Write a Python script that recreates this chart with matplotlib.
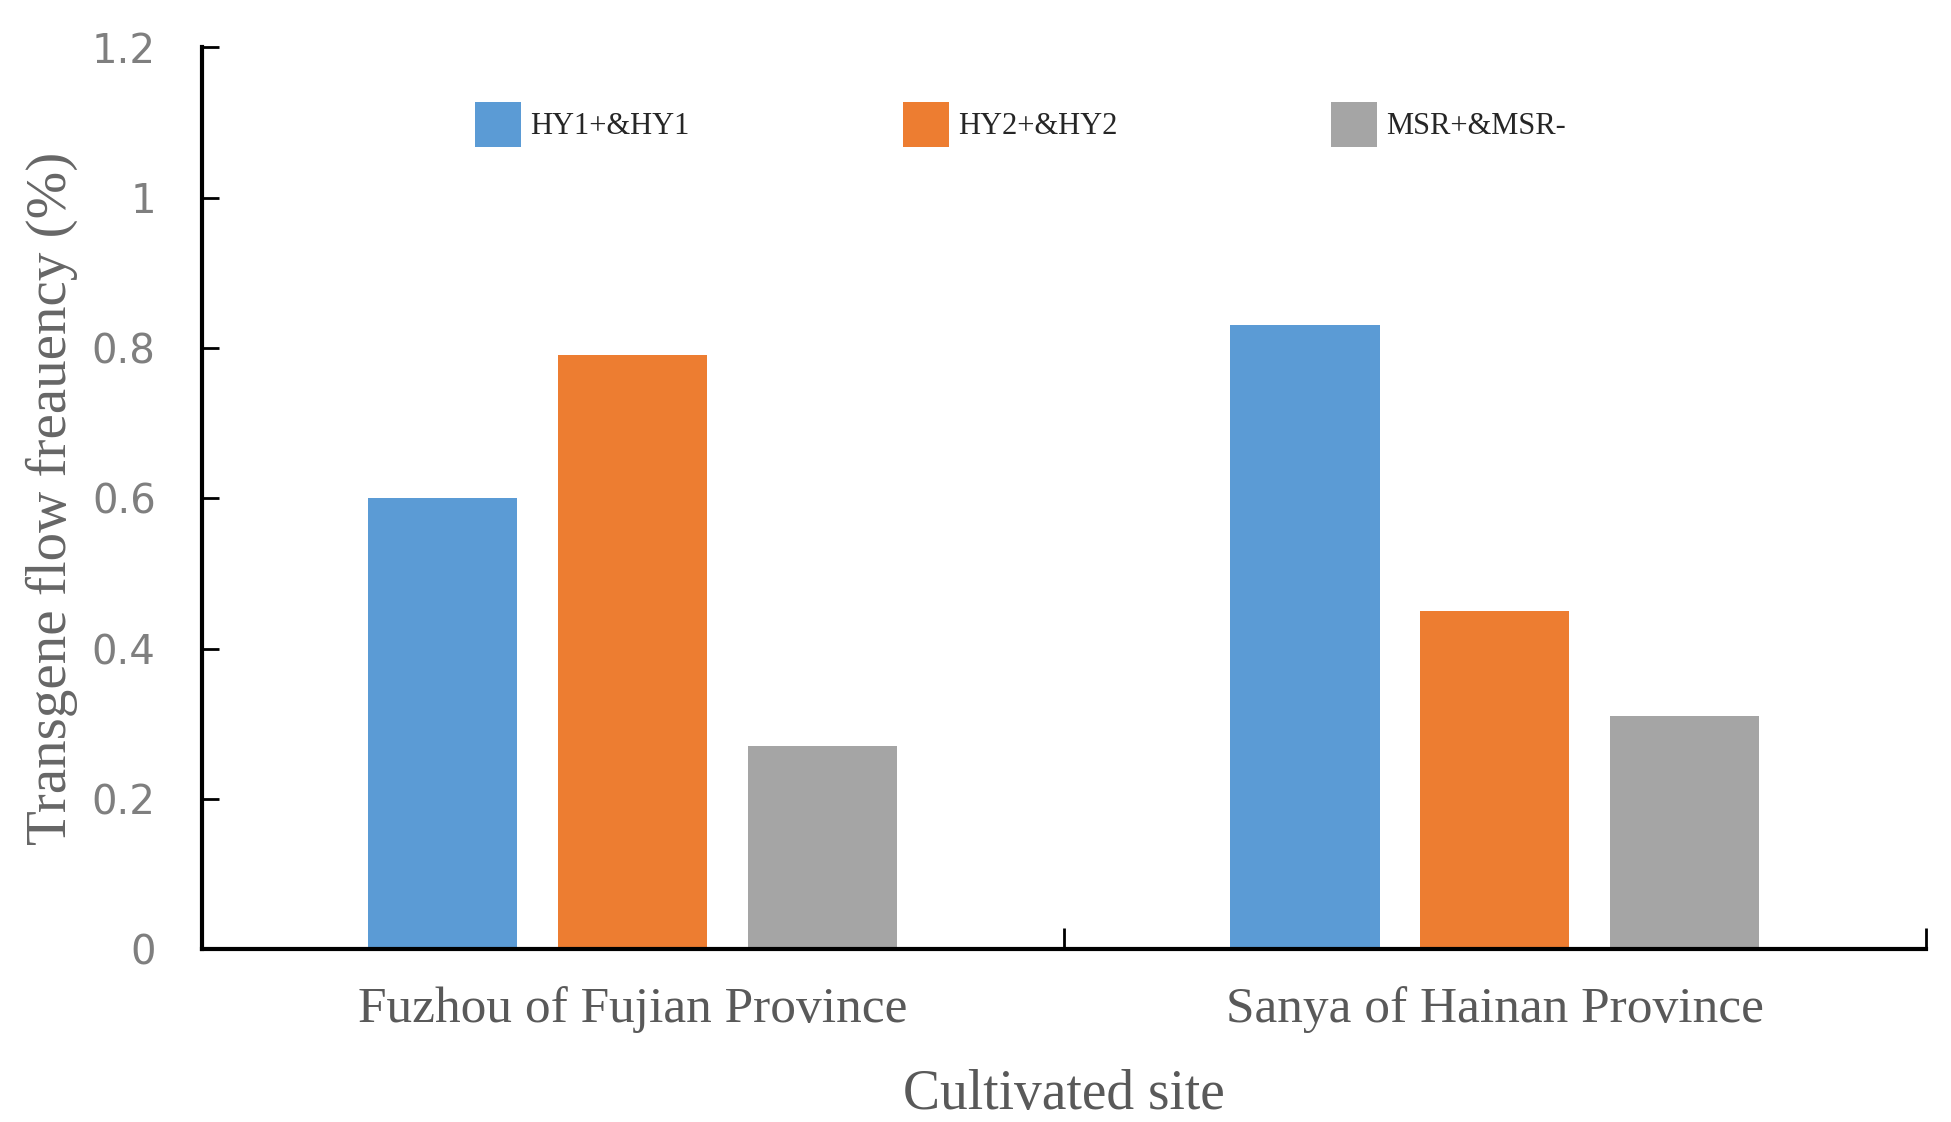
import numpy as np
import matplotlib
matplotlib.use("Agg")
import matplotlib.pyplot as plt

# data
sites = ["Fuzhou of Fujian Province", "Sanya of Hainan Province"]
series = ["HY1+&HY1", "HY2+&HY2", "MSR+&MSR-"]
hy1 = [0.60, 0.83]
hy2 = [0.79, 0.45]
msr = [0.27, 0.31]
yticks = [0, 0.2, 0.4, 0.6, 0.8, 1.0, 1.2]
ytick_labels = ["0", "0.2", "0.4", "0.6", "0.8", "1", "1.2"]
colors = ["#5B9BD5", "#ED7D31", "#A5A5A5"]

fig = plt.figure(figsize=(19.51, 11.22), dpi=100)
ax = fig.add_axes([0.1033, 0.1538, 0.8837, 0.8042])

centers = np.arange(len(sites)) + 0.5
width = 0.173
offsets = [-0.22, 0.0, 0.22]
for vals, off, col, name in zip([hy1, hy2, msr], offsets, colors, series):
    ax.bar(centers + off, vals, width=width, color=col, label=name, zorder=2)

ax.set_xlim(0, len(sites))
ax.set_ylim(0, 1.2)

# category boundaries get the tick marks, labels sit in the middle
ax.set_xticks(np.arange(len(sites) + 1))
ax.set_xticklabels([])
ax.set_xticks(centers, minor=True)
ax.set_xticklabels(sites, minor=True, family="Liberation Serif", fontsize=37, color="#595959")
ax.tick_params(axis="x", which="major", direction="in", length=15, width=2)
ax.tick_params(axis="x", which="minor", length=0, pad=26)

ax.set_yticks(yticks)
ax.set_yticklabels(ytick_labels, fontsize=29, color="#7F7F7F")
ax.tick_params(axis="y", direction="in", length=12, width=2, pad=33)

for s in ["top", "right"]:
    ax.spines[s].set_visible(False)
for s in ["left", "bottom"]:
    ax.spines[s].set_linewidth(3)
    ax.spines[s].set_color("black")

ax.set_xlabel("Cultivated site", family="Liberation Serif", fontsize=40, color="#595959", labelpad=26)
ax.set_ylabel("Transgene flow freauency (%)", family="Liberation Serif", fontsize=41, color="#666666", labelpad=10)

fig.legend(loc="center", bbox_to_anchor=(0.523, 0.889), ncol=3, frameon=False,
           prop={"family": "Liberation Serif", "size": 22}, handlelength=1.5, handleheight=1.9,
           handletextpad=0.3, columnspacing=7.0, labelcolor="#262626")

fig.savefig("out.png", dpi=100)
